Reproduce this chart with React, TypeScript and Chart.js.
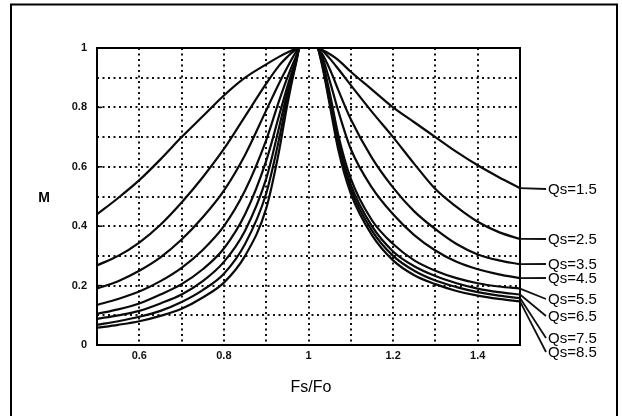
import React, { useEffect, useRef } from "react";
import { Chart, registerables } from "chart.js";

Chart.register(...registerables);

// Normalised switching frequency Fs/Fo (shared sample points)
const fs = [0.5, 0.55, 0.6, 0.65, 0.7, 0.75, 0.8, 0.85, 0.9, 0.93, 0.95, 0.97, 0.98, 1.0, 1.02, 1.03, 1.05, 1.07, 1.1, 1.15, 1.2, 1.25, 1.3, 1.35, 1.4, 1.45, 1.5];

// Gain M for each Qs curve
const qs15 = [0.44, 0.495, 0.555, 0.625, 0.7, 0.77, 0.84, 0.9, 0.945, 0.97, 0.985, 0.997, 1, 1, 1, 0.995, 0.98, 0.96, 0.92, 0.86, 0.8, 0.75, 0.7, 0.65, 0.605, 0.565, 0.528];
const qs25 = [0.268, 0.3, 0.345, 0.405, 0.48, 0.565, 0.66, 0.77, 0.88, 0.94, 0.97, 0.995, 1, 1, 1, 0.995, 0.965, 0.93, 0.875, 0.785, 0.7, 0.61, 0.525, 0.465, 0.415, 0.38, 0.357];
const qs35 = [0.19, 0.215, 0.25, 0.295, 0.355, 0.43, 0.52, 0.64, 0.79, 0.88, 0.935, 0.985, 1, 1, 1, 0.985, 0.93, 0.86, 0.76, 0.63, 0.53, 0.45, 0.39, 0.34, 0.305, 0.285, 0.272];
const qs45 = [0.135, 0.155, 0.18, 0.215, 0.26, 0.32, 0.4, 0.52, 0.69, 0.82, 0.9, 0.97, 1, 1, 1, 0.98, 0.89, 0.79, 0.66, 0.53, 0.44, 0.37, 0.318, 0.28, 0.255, 0.238, 0.225];
const qs55 = [0.105, 0.12, 0.14, 0.17, 0.205, 0.255, 0.325, 0.44, 0.62, 0.77, 0.87, 0.96, 1, 1, 1, 0.97, 0.85, 0.71, 0.56, 0.42, 0.34, 0.285, 0.25, 0.225, 0.208, 0.197, 0.19];
const qs65 = [0.088, 0.1, 0.115, 0.14, 0.17, 0.215, 0.28, 0.385, 0.56, 0.73, 0.85, 0.955, 1, 1, 1, 0.965, 0.83, 0.69, 0.54, 0.4, 0.315, 0.265, 0.232, 0.208, 0.19, 0.178, 0.17];
const qs75 = [0.068, 0.08, 0.095, 0.115, 0.145, 0.185, 0.24, 0.34, 0.51, 0.69, 0.83, 0.95, 1, 1, 1, 0.96, 0.82, 0.675, 0.525, 0.385, 0.3, 0.25, 0.217, 0.195, 0.178, 0.166, 0.158];
const qs85 = [0.058, 0.068, 0.08, 0.098, 0.122, 0.16, 0.21, 0.3, 0.46, 0.65, 0.81, 0.945, 1, 1, 1, 0.955, 0.81, 0.66, 0.51, 0.37, 0.285, 0.235, 0.205, 0.182, 0.166, 0.155, 0.147];

const seriesNames = ["Qs=1.5", "Qs=2.5", "Qs=3.5", "Qs=4.5", "Qs=5.5", "Qs=6.5", "Qs=7.5", "Qs=8.5"];
const seriesValues = [qs15, qs25, qs35, qs45, qs55, qs65, qs75, qs85];

const xTickLabels = ["0.6", "0.8", "1", "1.2", "1.4"];
const yTickLabels = ["0", "0.2", "0.4", "0.6", "0.8", "1"];
const xTitle = "Fs/Fo";
const yTitle = "M";

// layout constants (pixels)
const LABEL_X = 548;
const LABEL_Y = [189, 239, 264, 278, 299, 316, 338, 352];
const FONT = '"Liberation Sans", Arial, Helvetica, sans-serif';

const fmt = (v: number) => String(Math.round(v * 10) / 10);

const decor = {
  id: "decor",
  afterDraw(chart: any) {
    const { ctx, chartArea, scales } = chart;
    const { left, right, top, bottom } = chartArea;
    const xs = scales.x;
    const ys = scales.y;
    ctx.save();
    ctx.setLineDash([]);
    ctx.strokeStyle = "#000";
    // plot frame
    ctx.lineWidth = 2;
    ctx.strokeRect(left, top, right - left, bottom - top);
    // outer frame
    ctx.beginPath();
    ctx.moveTo(11, 420);
    ctx.lineTo(11, 4.5);
    ctx.lineTo(617, 4.5);
    ctx.lineTo(617, 420);
    ctx.stroke();
    // inward ticks on y axis for labelled values
    ctx.lineWidth = 1.5;
    yTickLabels.forEach((t) => {
      const py = ys.getPixelForValue(parseFloat(t));
      ctx.beginPath();
      ctx.moveTo(left, py);
      ctx.lineTo(left + 5, py);
      ctx.stroke();
    });
    // leader lines + labels
    ctx.lineWidth = 1.8;
    ctx.strokeStyle = "#111";
    seriesValues.forEach((vals, i) => {
      const px = xs.getPixelForValue(fs[fs.length - 1]);
      const py = ys.getPixelForValue(vals[vals.length - 1]);
      ctx.beginPath();
      ctx.moveTo(px, py);
      ctx.lineTo(LABEL_X - 2, LABEL_Y[i]);
      ctx.stroke();
    });
    ctx.fillStyle = "#000";
    ctx.font = `15px ${FONT}`;
    ctx.textAlign = "left";
    ctx.textBaseline = "middle";
    seriesNames.forEach((n, i) => ctx.fillText(n, LABEL_X, LABEL_Y[i] + 1));
    ctx.textAlign = "center";
    ctx.font = `bold 14px ${FONT}`;
    ctx.fillText(yTitle, 44, 198);
    ctx.font = `16px ${FONT}`;
    ctx.fillText(xTitle, 311, 388);
    ctx.restore();
  },
};

export default function App() {
  const ref = useRef<HTMLCanvasElement | null>(null);
  useEffect(() => {
    if (!ref.current) return;
    const chart = new Chart(ref.current, {
      type: "line",
      data: {
        datasets: seriesValues.map((vals, i) => ({
          label: seriesNames[i],
          data: fs.map((f, j) => ({ x: f, y: vals[j] })),
          borderColor: "#0a0a0a",
          borderWidth: 2.2,
          pointRadius: 0,
          fill: false,
          cubicInterpolationMode: "monotone" as const,
        })),
      },
      options: {
        responsive: false,
        animation: false,
        events: [],
        layout: { padding: { top: 48, right: 102, left: 0, bottom: 0 } },
        plugins: { legend: { display: false }, tooltip: { enabled: false }, title: { display: false } },
        scales: {
          x: {
            type: "linear",
            min: 0.5,
            max: 1.5,
            afterFit: (s: any) => { s.height = 71; },
            ticks: {
              stepSize: 0.1,
              autoSkip: false,
              maxRotation: 0,
              padding: 4,
              color: "#111",
              font: { family: FONT, size: 11, weight: "bold" },
              callback: (v: any) => (xTickLabels.includes(fmt(Number(v))) ? fmt(Number(v)) : ""),
            },
            grid: { color: "#111", lineWidth: 2, drawTicks: false },
            border: { display: false, dash: [2, 3.5] },
          },
          y: {
            type: "linear",
            min: 0,
            max: 1,
            afterFit: (s: any) => { s.width = 97; },
            ticks: {
              stepSize: 0.1,
              autoSkip: false,
              padding: 10,
              color: "#111",
              font: { family: FONT, size: 11, weight: "bold" },
              callback: (v: any) => (yTickLabels.includes(fmt(Number(v))) ? fmt(Number(v)) : ""),
            },
            grid: { color: "#111", lineWidth: 2, drawTicks: false },
            border: { display: false, dash: [2, 3.5] },
          },
        },
      },
      plugins: [decor],
    });
    return () => chart.destroy();
  }, []);
  return (
    <div style={{ position: "fixed", left: 0, top: 0, width: 622, height: 416, background: "#fff" }}>
      <canvas ref={ref} width={622} height={416} style={{ display: "block" }} />
    </div>
  );
}
